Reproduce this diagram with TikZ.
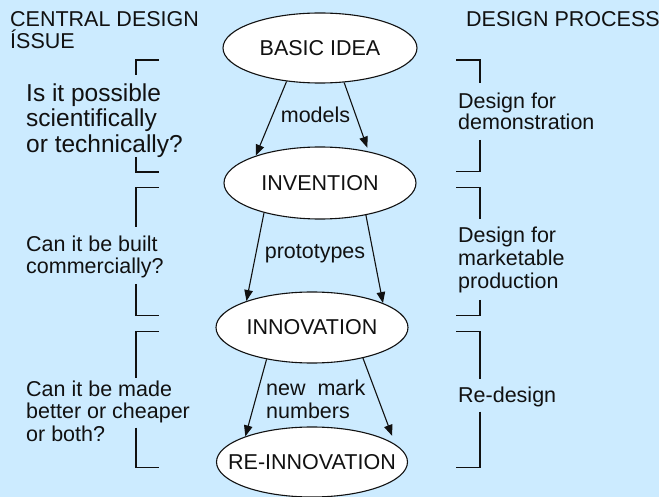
\documentclass[tikz,border=0pt]{standalone}
\usepackage{fontspec}
\setmainfont{Liberation Sans}
\usetikzlibrary{shapes.geometric,arrows.meta}
\definecolor{paneblue}{RGB}{204,235,255}
\definecolor{ink}{RGB}{17,17,17}
\begin{document}
\begin{tikzpicture}[x=1pt,y=-1pt,
  every node/.style={text=ink},
  stage/.style={ellipse, draw=ink, fill=white, line width=1.1pt, inner sep=0pt,
    text height=14.8pt, text depth=0pt, font=\fontsize{21.5}{23}\selectfont},
  % multi-line notes are placed by the baseline of their last line
  note/.style={anchor=base west, align=left, inner sep=0pt, font=\fontsize{21.5}{22.5}\selectfont},
  flow/.style={draw=ink, line width=1.1pt, -{Triangle[length=11pt,width=8.5pt]}},
  brace/.style={draw=ink, line width=1.1pt}]
% backdrop
\fill[paneblue] (0,0) rectangle (659,497);
\useasboundingbox (0,0) rectangle (659,497);

% column headings
\node[note, font=\fontsize{21.5}{22}\selectfont] (hleft) at (10,49) {CENTRAL DESIGN\\ÍSSUE};
\node[note] (hright) at (466,27) {DESIGN PROCESS};

% stages of the process
\node[stage, minimum width=194pt, minimum height=70pt] (basic) at (320,48) {\makebox[0pt]{BASIC IDEA}};
\node[stage, minimum width=192pt, minimum height=72pt] (invention) at (320,183) {\makebox[0pt]{INVENTION}};
\node[stage, minimum width=192pt, minimum height=71pt] (innovation) at (312,327.5) {\makebox[0pt]{INNOVATION}};
\node[stage, minimum width=191pt, minimum height=70pt] (reinnov) at (312,462) {\makebox[0pt]{RE-INNOVATION}};

% transitions
\draw[flow] (basic.225) -- (invention.157);
\draw[flow, shorten >=4pt] (basic.305) -- (invention.33);
\draw[flow] (invention.208) -- (innovation.158.6);
\draw[flow] (invention.325) -- (innovation.19);
\draw[flow] (innovation.215) -- (reinnov.159.6);
\draw[flow, shorten >=9pt] (innovation.329.4) -- (reinnov.12);

% transition labels
\node[note, anchor=base] (lmodels) at (315.5,122.7) {models};
\node[note, anchor=base] (lproto) at (315,258.3) {prototypes};
\node[note, font=\fontsize{21.5}{22.8}\selectfont] (lmark) at (266,418.3) {new\ \ mark\\numbers};

% questions on the left
\node[note, font=\fontsize{24.5}{25.3}\selectfont] (q1) at (26,152.3) {Is it possible\\scientifically\\or technically?};
\node[note] (q2) at (26,274) {Can it be built\\commercially?};
\node[note] (q3) at (26,441) {Can it be made\\better or cheaper\\or both?};

% design activities on the right
\node[note, font=\fontsize{21.5}{21.7}\selectfont] (d1) at (458,130) {Design for\\demonstration};
\node[note, font=\fontsize{21.5}{22.8}\selectfont] (d2) at (458,288.3) {Design for\\marketable\\production};
\node[note] (d3) at (458,402.7) {Re-design};

% left brackets
\draw[brace] (159,60) -- (136,60) -- (136,75);
\draw[brace] (136,157) -- (136,172) -- (159,172);
\draw[brace] (159,187.3) -- (136,187.3) -- (136,226.7);
\draw[brace] (136,284) -- (136,315.7) -- (159,315.7);
\draw[brace] (159,331.7) -- (136,331.7) -- (136,378);
\draw[brace] (136,427.7) -- (136,467.3) -- (159,467.3);

% right brackets
\draw[brace] (456,60) -- (480,60) -- (480,82.7);
\draw[brace] (480,140) -- (480,171.7) -- (456,171.7);
\draw[brace] (456,187.3) -- (480,187.3) -- (480,219.3);
\draw[brace] (480,300) -- (480,315.7) -- (456,315.7);
\draw[brace] (456,331.7) -- (480,331.7) -- (480,379.3);
\draw[brace] (480,411.7) -- (480,467.3) -- (456,467.3);
\end{tikzpicture}
\end{document}
